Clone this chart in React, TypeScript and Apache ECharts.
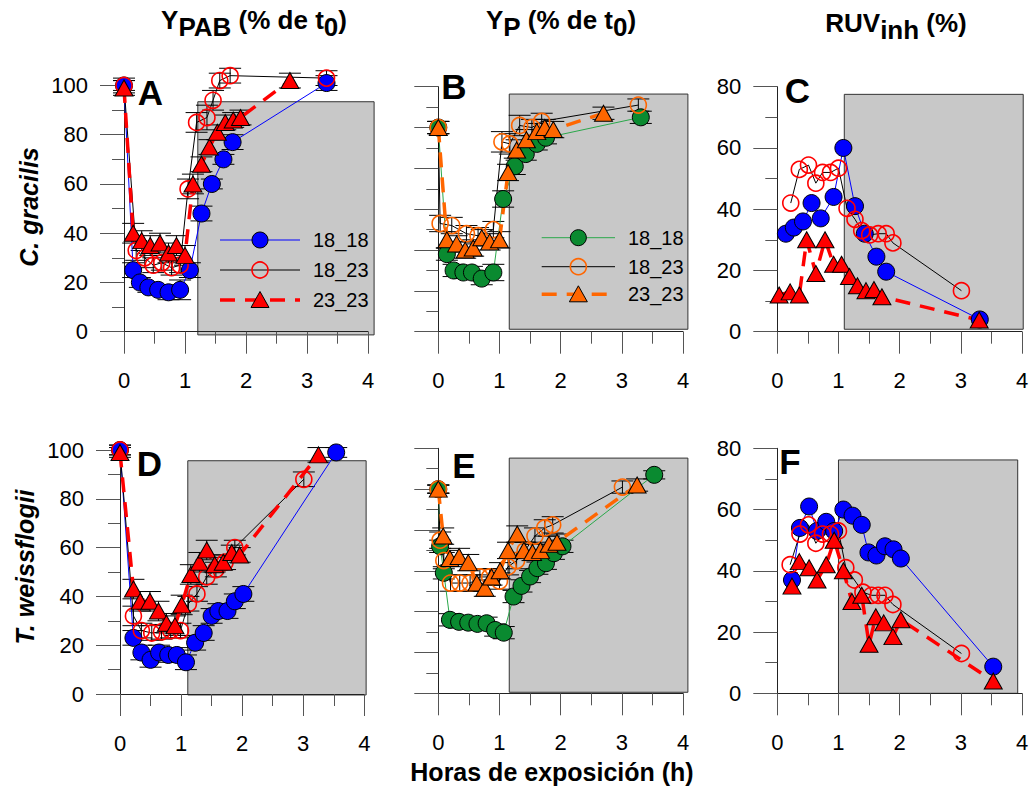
import { useEffect, useRef } from 'react';
import * as echarts from 'echarts';

const FONT = '"Liberation Sans", Arial, Helvetica, sans-serif';

const seriesKeys = ['18_18', '18_23', '23_23'];
const panelLetters = ['A', 'B', 'C', 'D', 'E', 'F'];
const yMaxes = [100, 120, 80, 100, 120, 80];
const yLabelShown = [true, false, true, true, false, true];

// ---------- Panel A : C. gracilis, Y_PAB ----------
const tA1818 = [0, 0.15, 0.26, 0.4, 0.56, 0.73, 0.92, 1.08, 1.27, 1.44, 1.63, 1.78, 3.32];
const yA1818 = [100, 25, 20, 18, 17, 16, 17, 25, 48, 60, 70, 77, 101];
const eA1818 = [2, 3, 2, 2, 2, 3, 4, 3, 3, 2, 2, 3, 3];
const tA1823 = [0, 0.2, 0.34, 0.48, 0.62, 0.78, 0.92, 1.05, 1.19, 1.36, 1.46, 1.57, 1.74, 3.32];
const yA1823 = [100, 33, 30, 27, 28, 26, 27, 58, 85, 87, 94, 102, 104, 103];
const eA1823 = [3, 4, 4, 3, 3, 3, 3, 4, 4, 5, 4, 3, 3, 3];
const tA2323 = [0, 0.15, 0.29, 0.43, 0.59, 0.73, 0.86, 1.0, 1.13, 1.27, 1.4, 1.53, 1.66, 1.79, 1.91, 2.72];
const yA2323 = [99, 40, 37, 35, 36, 32, 35, 31, 60, 68, 75, 81, 85, 86, 87, 102];
const eA2323 = [3, 4, 4, 4, 4, 4, 4, 4, 4, 3, 3, 3, 3, 3, 3, 3];

// ---------- Panel B : C. gracilis, Y_P ----------
const tB1818 = [0, 0.14, 0.25, 0.41, 0.55, 0.71, 0.9, 1.06, 1.25, 1.43, 1.61, 1.76, 3.31];
const yB1818 = [100, 38, 30, 29, 29, 26, 29, 65, 81, 87, 92, 95, 105];
const eB1818 = [3, 3, 3, 3, 3, 3, 4, 4, 4, 3, 3, 3, 3];
const tB1823 = [0, 0.03, 0.22, 0.46, 0.65, 0.9, 1.04, 1.17, 1.33, 1.53, 1.69, 3.27];
const yB1823 = [100, 53, 52, 48, 47, 50, 93, 92, 101, 100, 103, 111];
const eB1823 = [3, 4, 4, 4, 4, 4, 5, 5, 5, 4, 4, 3];
const tB2323 = [0, 0.14, 0.3, 0.44, 0.57, 0.71, 0.84, 1.0, 1.14, 1.28, 1.44, 1.61, 1.74, 1.88, 2.7];
const yB2323 = [100, 45, 43, 40, 41, 46, 44, 45, 78, 89, 94, 98, 100, 99, 107];
const eB2323 = [3, 4, 4, 4, 4, 4, 4, 4, 4, 5, 5, 4, 4, 4, 3];

// ---------- Panel C : C. gracilis, RUV_inh ----------
const tC1818 = [0.14, 0.27, 0.42, 0.56, 0.71, 0.92, 1.08, 1.27, 1.43, 1.62, 1.78, 3.31];
const yC1818 = [32, 34, 36, 42, 37, 44, 60, 41, 32, 24.5, 19.6, 4];
const tC1823 = [0.22, 0.36, 0.51, 0.63, 0.74, 0.87, 1.0, 1.14, 1.27, 1.38, 1.51, 1.65, 1.78, 1.89, 3.01];
const yC1823 = [42, 53, 54.4, 48.5, 52, 52, 53.4, 40.3, 36.7, 33, 31.6, 32, 32, 29, 13.4];
const tC2323 = [0.03, 0.21, 0.36, 0.48, 0.63, 0.78, 0.92, 1.05, 1.18, 1.31, 1.45, 1.58, 1.71, 3.3];
const yC2323 = [12, 13, 12, 30, 19, 30, 22, 22, 18, 15, 13.4, 13.8, 11.4, 3.8];

// ---------- Panel D : T. weissflogii, Y_PAB ----------
const tD1818 = [0, 0.22, 0.35, 0.5, 0.64, 0.79, 0.93, 1.08, 1.23, 1.37, 1.5, 1.61, 1.76, 1.88, 2.02, 3.54];
const yD1818 = [100, 23, 17, 14, 17, 16, 16, 13, 21, 25, 32, 34, 34, 38, 41, 99];
const eD1818 = [2, 3, 3, 3, 3, 3, 3, 3, 3, 3, 3, 3, 3, 3, 3, 2];
const tD1823 = [0, 0.22, 0.35, 0.52, 0.68, 0.83, 0.99, 1.12, 1.26, 1.42, 1.57, 1.72, 1.88, 3.01];
const yD1823 = [100, 32, 26, 25, 25.5, 26, 26, 37, 41, 48, 51, 54, 60, 88];
const eD1823 = [2, 4, 3, 3, 3, 3, 3, 3, 3, 3, 3, 3, 3, 3];
const tD2323 = [0, 0.22, 0.33, 0.49, 0.63, 0.76, 0.9, 1.01, 1.16, 1.3, 1.42, 1.55, 1.69, 1.83, 1.96, 3.25];
const yD2323 = [99, 43, 38, 38, 34, 29, 28, 36.5, 49, 54, 59, 53, 54, 58, 57, 98];
const eD2323 = [2, 4, 4, 4, 4, 4, 4, 4, 4, 4, 4, 3, 3, 3, 3, 3];

// ---------- Panel E : T. weissflogii, Y_P ----------
const tE1818 = [0, 0.03, 0.09, 0.19, 0.34, 0.49, 0.64, 0.79, 0.93, 1.07, 1.23, 1.36, 1.5, 1.62, 1.76, 1.89, 2.03, 3.53];
const yE1818 = [100, 72, 59, 36, 35, 34.6, 34, 34.3, 31, 29.7, 47.4, 52.6, 57.2, 61.3, 63.7, 68.6, 72, 107];
const eE1818 = [2, 3, 3, 3, 3, 3, 3, 3, 3, 3, 3, 3, 3, 3, 3, 3, 3, 2];
const tE1823 = [0, 0.03, 0.09, 0.2, 0.35, 0.52, 0.68, 0.84, 1.0, 1.14, 1.28, 1.42, 1.58, 1.74, 1.87, 3.01];
const yE1823 = [100, 75, 65, 54, 54, 54, 57, 57, 55, 62, 65, 70, 77, 81, 82.5, 101];
const eE1823 = [2, 4, 4, 4, 4, 4, 4, 4, 4, 4, 4, 4, 4, 4, 4, 3];
const tE2323 = [0, 0.08, 0.19, 0.34, 0.49, 0.63, 0.76, 0.87, 1.01, 1.14, 1.29, 1.4, 1.54, 1.67, 1.81, 1.94, 3.25];
const yE2323 = [100, 77, 66, 67, 64, 54, 51.5, 57, 60, 70, 78, 70, 69, 70, 73, 74, 102];
const eE2323 = [2, 4, 4, 4, 4, 4, 4, 4, 4, 4, 4, 4, 4, 4, 4, 4, 3];

// ---------- Panel F : T. weissflogii, RUV_inh ----------
const tF1818 = [0.24, 0.37, 0.52, 0.65, 0.8, 0.93, 1.08, 1.23, 1.38, 1.49, 1.62, 1.76, 1.9, 2.02, 3.53];
const yF1818 = [37, 54, 61, 53, 56, 53, 60, 58, 55, 46, 45, 48, 47, 44, 8.7];
const tF1823 = [0.21, 0.37, 0.51, 0.63, 0.74, 0.87, 1.0, 1.12, 1.26, 1.4, 1.54, 1.65, 1.76, 1.89, 3.01];
const yF1823 = [42, 52, 55, 49, 52, 52, 53, 41, 37, 33, 32, 32, 32, 29, 13];
const tF2323 = [0.24, 0.36, 0.52, 0.65, 0.8, 0.93, 1.08, 1.22, 1.38, 1.5, 1.61, 1.74, 1.89, 2.02, 3.53];
const yF2323 = [35, 43, 41, 37, 42, 50, 40, 30, 32, 16, 25, 23, 18.5, 24, 4];

// exposure (shaded) regions: [x0, y0, x1, y1] in data units of each panel
const exposureBoxes = [
  [1.21, -1.3, 4.1, 93.4],
  [1.16, 1.2, 4.08, 116.4],
  [1.095, 0.8, 4.02, 77.5],
  [1.11, -0.4, 4.03, 95.6],
  [1.16, 0.5, 4.08, 115.2],
  [1.0, 0, 3.93, 76.2],
];

type S = [number[], number[], number[] | null];
const panelData: { s: S[] }[] = [
  { s: [[tA1818, yA1818, eA1818], [tA1823, yA1823, eA1823], [tA2323, yA2323, eA2323]] },
  { s: [[tB1818, yB1818, eB1818], [tB1823, yB1823, eB1823], [tB2323, yB2323, eB2323]] },
  { s: [[tC1818, yC1818, null], [tC1823, yC1823, null], [tC2323, yC2323, null]] },
  { s: [[tD1818, yD1818, eD1818], [tD1823, yD1823, eD1823], [tD2323, yD2323, eD2323]] },
  { s: [[tE1818, yE1818, eE1818], [tE1823, yE1823, eE1823], [tE2323, yE2323, eE2323]] },
  { s: [[tF1818, yF1818, null], [tF1823, yF1823, null], [tF2323, yF2323, null]] },
];

const GRIDS = [
  { left: 124, top: 85.5, width: 244, height: 246.2 },
  { left: 438.3, top: 86.7, width: 244.7, height: 245 },
  { left: 777.3, top: 86.7, width: 244.7, height: 245 },
  { left: 120, top: 450, width: 244.3, height: 244 },
  { left: 438.3, top: 448.3, width: 244.7, height: 245 },
  { left: 777.3, top: 448.3, width: 244.7, height: 245 },
];

const BLUE = { fill18: '#0000ff', line18: '#0000ff', c1823: '#ff0000', c23: '#ff0000' };
const GREEN = { fill18: '#0a8a30', line18: '#2aa84a', c1823: '#ff6600', c23: '#ff6600' };
const palettes = [BLUE, GREEN, BLUE, BLUE, GREEN, BLUE];

const renderErr = (params: any, api: any) => {
  const x = api.value(0);
  const y = api.value(1);
  const e = api.value(2);
  const top = api.coord([x, y + e]);
  const bot = api.coord([x, y - e]);
  const hw = 11;
  const st = { stroke: '#000', lineWidth: 1 };
  return {
    type: 'group',
    children: [
      { type: 'line', shape: { x1: top[0], y1: top[1], x2: bot[0], y2: bot[1] }, style: st },
      { type: 'line', shape: { x1: top[0] - hw, y1: top[1], x2: top[0] + hw, y2: top[1] }, style: st },
      { type: 'line', shape: { x1: bot[0] - hw, y1: bot[1], x2: bot[0] + hw, y2: bot[1] }, style: st },
    ],
  };
};

function buildSeries() {
  const series: any[] = [];
  panelData.forEach((pd, i) => {
    const L = panelLetters[i];
    const pal = palettes[i];
    const defs = [
      {
        symbol: 'circle', size: 17,
        item: { color: pal.fill18, borderColor: '#000', borderWidth: 1 },
        line: { color: pal.line18, width: 1 },
      },
      {
        symbol: 'circle', size: 16,
        item: { color: 'rgba(255,255,255,0)', borderColor: pal.c1823, borderWidth: 1.6 },
        line: { color: '#000', width: 1 },
      },
      {
        symbol: 'triangle', size: [18, 16],
        item: { color: pal.c23, borderColor: '#000', borderWidth: 1 },
        line: { color: pal.c23, width: 3.5, type: [15, 10] },
      },
    ];
    defs.forEach((df, k) => {
      const [t, y, e] = pd.s[k];
      series.push({
        type: 'line',
        name: L + seriesKeys[k],
        xAxisIndex: i,
        yAxisIndex: i,
        data: t.map((x, j) => [x, y[j]]),
        symbol: df.symbol,
        symbolSize: df.size,
        itemStyle: df.item,
        lineStyle: df.line,
        clip: false,
        silent: true,
        emphasis: { disabled: true },
      });
      if (e) {
        series.push({
          type: 'custom',
          xAxisIndex: i,
          yAxisIndex: i,
          data: t.map((x, j) => [x, y[j], e[j]]),
          encode: { x: 0, y: 1 },
          renderItem: renderErr,
          clip: false,
          silent: true,
        });
      }
    });
  });
  return series;
}

// legend key drawn as graphic elements (line sample + marker + label)
function legendKey(pal: any, x0: number, x1: number, xt: number, rows: number[]) {
  const xm = (x0 + x1) / 2;
  const els: any[] = [];
  const font = `20px ${FONT}`;
  els.push({ type: 'line', z: 20, shape: { x1: x0, y1: rows[0], x2: x1, y2: rows[0] }, style: { stroke: pal.line18, lineWidth: 1 } });
  els.push({ type: 'circle', z: 21, shape: { cx: xm, cy: rows[0], r: 8 }, style: { fill: pal.fill18, stroke: '#000', lineWidth: 1 } });
  els.push({ type: 'line', z: 20, shape: { x1: x0, y1: rows[1], x2: x1, y2: rows[1] }, style: { stroke: '#000', lineWidth: 1 } });
  els.push({ type: 'circle', z: 21, shape: { cx: xm, cy: rows[1], r: 8 }, style: { fill: 'none', stroke: pal.c1823, lineWidth: 1.6 } });
  els.push({ type: 'line', z: 20, shape: { x1: x0, y1: rows[2], x2: x1, y2: rows[2] }, style: { stroke: pal.c23, lineWidth: 3.5, lineDash: [15, 10] } });
  els.push({
    type: 'polygon', z: 21,
    shape: { points: [[xm, rows[2] - 8.5], [xm + 9, rows[2] + 7.5], [xm - 9, rows[2] + 7.5]] },
    style: { fill: pal.c23, stroke: '#000', lineWidth: 1 },
  });
  seriesKeys.forEach((k, r) => {
    els.push({ type: 'text', z: 21, x: xt, y: rows[r], style: { text: k, font, fill: '#000', align: 'left', verticalAlign: 'middle' } });
  });
  return els;
}

export default function App() {
  const ref = useRef<HTMLDivElement>(null);
  useEffect(() => {
    if (!ref.current) return;
    const chart = echarts.init(ref.current, null, { renderer: 'svg' });
    const option: any = {
      animation: false,
      backgroundColor: '#fff',
      grid: GRIDS.map((g) => ({ ...g, containLabel: false, outerBoundsMode: 'none' })),
      xAxis: GRIDS.map((_, i) => ({
        gridIndex: i,
        type: 'value',
        min: 0,
        max: 4,
        interval: 1,
        z: 1,
        axisLine: { show: true, onZero: false, lineStyle: { color: '#222', width: 1 } },
        axisTick: { show: true, length: 22, lineStyle: { color: '#555', width: 1 } },
        minorTick: { show: true, splitNumber: 2, length: 12, lineStyle: { color: '#555', width: 1 } },
        splitLine: { show: false },
        minorSplitLine: { show: false },
        axisLabel: { show: true, margin: 38, fontSize: 22, fontFamily: FONT, color: '#000' },
      })),
      yAxis: GRIDS.map((_, i) => ({
        gridIndex: i,
        type: 'value',
        min: 0,
        max: yMaxes[i],
        interval: 20,
        z: 1,
        axisLine: { show: true, onZero: false, lineStyle: { color: '#222', width: 1 } },
        axisTick: { show: true, length: 24, lineStyle: { color: '#555', width: 1 } },
        minorTick: { show: true, splitNumber: 2, length: 12, lineStyle: { color: '#555', width: 1 } },
        splitLine: { show: false },
        minorSplitLine: { show: false },
        axisLabel: { show: yLabelShown[i], margin: 36, fontSize: 22, fontFamily: FONT, color: '#000' },
      })),
      series: buildSeries(),
    };
    chart.setOption(option);

    const rects = exposureBoxes.map((b, i) => {
      const p1 = chart.convertToPixel({ gridIndex: i } as any, [b[0], b[3]]) as number[];
      const p2 = chart.convertToPixel({ gridIndex: i } as any, [b[2], b[1]]) as number[];
      return {
        type: 'rect',
        z: 0,
        silent: true,
        shape: { x: p1[0], y: p1[1], width: p2[0] - p1[0], height: p2[1] - p1[1] },
        style: { fill: '#c8c8c8', stroke: '#333', lineWidth: 1 },
      };
    });

    const titleRich = {
      n: { fontFamily: FONT, fontSize: 26, fontWeight: 'bold', lineHeight: 26, verticalAlign: 'top', color: '#000' },
      s: { fontFamily: FONT, fontSize: 26, fontWeight: 'bold', lineHeight: 33, verticalAlign: 'bottom', color: '#000' },
    };
    const mkTitle = (text: string, x: number, y: number) => ({
      type: 'text',
      z: 10,
      x,
      y,
      style: { text, rich: titleRich, align: 'center', verticalAlign: 'middle', fill: '#000' },
    });
    const letterPos = [[150.5, 92.5], [454, 86.5], [797.5, 90.5], [149.5, 463.5], [464, 465], [790, 461.5]];
    const letters = panelLetters.map((l, i) => ({
      type: 'text',
      z: 10,
      x: letterPos[i][0],
      y: letterPos[i][1],
      style: {
        text: l,
        font: `bold 35px ${FONT}`,
        fill: '#000',
        align: 'center',
        verticalAlign: 'middle',
      },
    }));

    const texts = [
      mkTitle('{n|Y}{s|PAB}{n| (% de t}{s|0}{n|)}', 254, 23.5),
      mkTitle('{n|Y}{s|P}{n| (% de t}{s|0}{n|)}', 561, 23.5),
      mkTitle('{n|RUV}{s|inh}{n| (%)}', 896, 26.8),
      ...letters,
      {
        type: 'text', z: 10, x: 29, y: 207, rotation: Math.PI / 2,
        style: { text: 'C. gracilis', font: `italic bold 25px ${FONT}`, fill: '#000', align: 'center', verticalAlign: 'middle' },
      },
      {
        type: 'text', z: 10, x: 25, y: 567, rotation: Math.PI / 2,
        style: { text: 'T. weissflogii', font: `italic bold 25px ${FONT}`, fill: '#000', align: 'center', verticalAlign: 'middle' },
      },
      {
        type: 'text', z: 10, x: 552, y: 772,
        style: { text: 'Horas de exposición (h)', font: `bold 25px ${FONT}`, fill: '#000', align: 'center', verticalAlign: 'middle' },
      },
    ];

    const legends = [
      ...legendKey(palettes[0], 220, 300, 313, [240, 270, 300]),
      ...legendKey(palettes[1], 541.7, 615, 628, [237.7, 266.7, 294.3]),
    ];

    chart.setOption({ graphic: { elements: [...rects, ...texts, ...legends] } });

    return () => {
      chart.dispose();
    };
  }, []);

  return (
    <div
      ref={ref}
      style={{ position: 'fixed', left: 0, top: 0, width: 1029, height: 790, background: '#fff' }}
    />
  );
}
